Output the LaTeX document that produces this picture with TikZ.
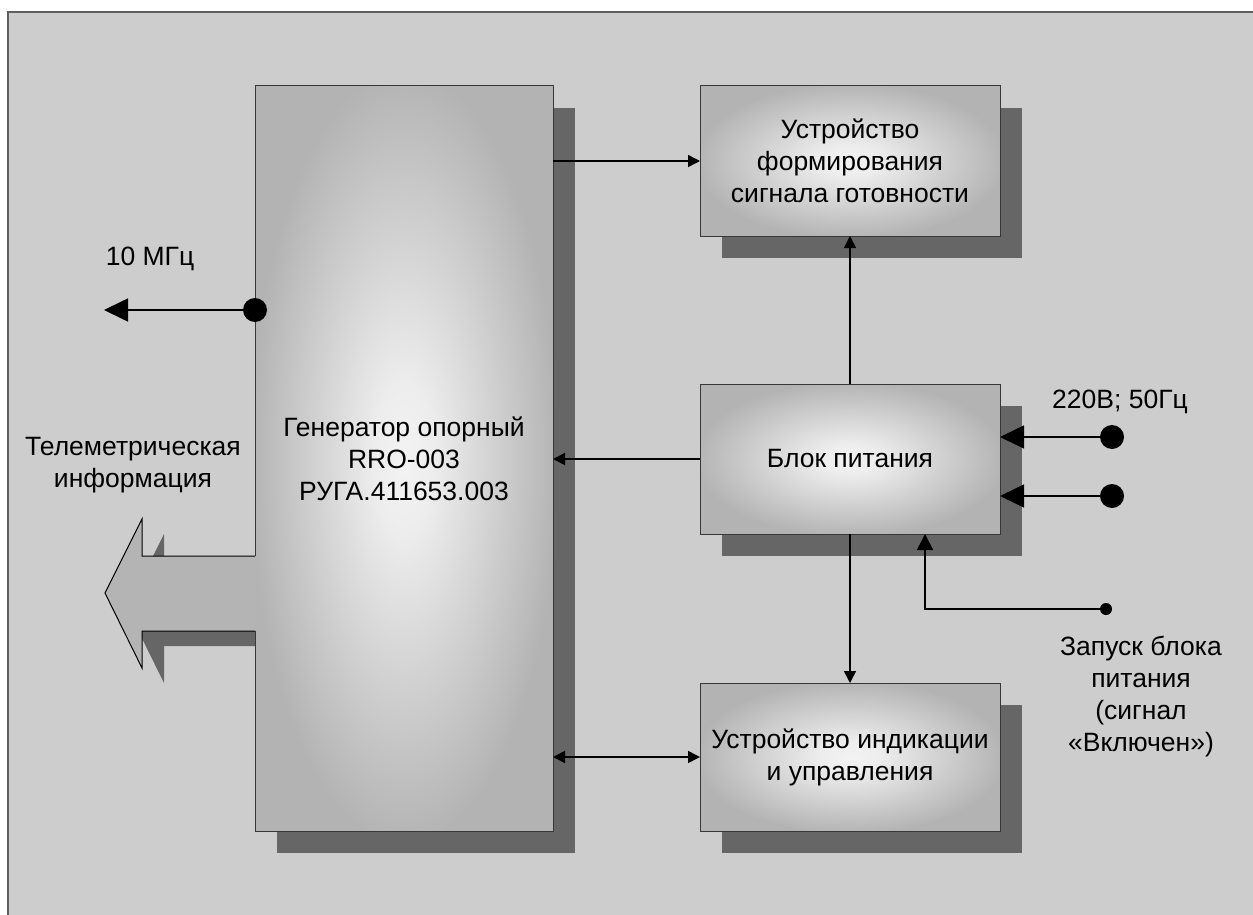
\documentclass[tikz,border=0pt]{standalone}
\usepackage{fontspec}
\setmainfont{Liberation Sans}
\usetikzlibrary{arrows.meta,calc}
\definecolor{bgc}{HTML}{CDCDCD}
\definecolor{framec}{HTML}{5F5F5F}
\definecolor{shadowc}{HTML}{666666}
\definecolor{glowin}{HTML}{F3F3F3}
\definecolor{glowmid}{HTML}{EDEDED}
\definecolor{glowout}{HTML}{B3B3B3}
\definecolor{arrowc}{HTML}{B4B4B4}
\pgfdeclareradialshading{boxglow}{\pgfpoint{0bp}{0bp}}{color(0bp)=(glowin); color(5bp)=(glowmid); color(26bp)=(glowout); color(50bp)=(glowout)}
\pgfdeclarelayer{bglayer}
\pgfdeclarelayer{shadowlayer}
\pgfsetlayers{bglayer,shadowlayer,main}
\tikzset{
  box/.style={shading=boxglow, inner sep=0pt, outer sep=0pt, align=center,
    font=\fontsize{26.5}{32}\selectfont},
  boxline/.style={draw=black!78, line width=1pt},
  lbl/.style={align=center, inner sep=0pt, font=\fontsize{26.5}{32}\selectfont},
  conn/.style={draw=black, line width=1.6pt},
  tipS/.style={-{Triangle[length=12pt,width=12pt]}},
  tipSS/.style={{Triangle[length=12pt,width=12pt]}-{Triangle[length=12pt,width=12pt]}},
  tipL/.style={-{Triangle[length=24pt,width=23pt]}},
  tipM/.style={-{Triangle[length=16pt,width=16pt]}},
  bigdot/.style={circle, fill=black, inner sep=0pt, minimum size=24pt},
  smalldot/.style={circle, fill=black, inner sep=0pt, minimum size=12pt},
}
\begin{document}
\begin{tikzpicture}[x=1pt,y=-1pt]
\useasboundingbox (0,0) rectangle (1253,915);
% background
\begin{pgfonlayer}{bglayer}
\fill[bgc] (8,12) rectangle (1253,915);
\draw[framec, line width=2pt] (8,915) -- (8,12) -- (1253,12);
\end{pgfonlayer}

% boxes
\node[box, minimum width=298pt, minimum height=745pt] (gen) at (404,458.5)
  {Генератор опорный\\RRO-003\\РУГА.411653.003};
\node[box, boxline, minimum width=300pt, minimum height=150pt] (top) at (850,161)
  {Устройство\\формирования\\сигнала готовности};
\node[box, boxline, minimum width=300pt, minimum height=150pt] (psu) at (850,459)
  {Блок питания};
\node[box, boxline, minimum width=300pt, minimum height=148pt] (ind) at (850,757)
  {Устройство индикации\\и управления};

% shadows
\begin{pgfonlayer}{shadowlayer}
\foreach \n in {gen,top,psu,ind}{
  \fill[shadowc] ($(\n.south west)+(22,22)$) rectangle ($(\n.north east)+(22,22)$);
}
% shadow of the big hollow arrow
\fill[shadowc] (277,571) -- (164,571) -- (164,534) -- (127,608) -- (164,683) -- (164,646) -- (277,646) -- cycle;
\end{pgfonlayer}

% big hollow arrow (telemetry)
\fill[arrowc] (255.5,556) -- (142,556) -- (142,519) -- (105,593) -- (142,668) -- (142,631) -- (255.5,631) -- cycle;
\draw[black, line width=1pt, line join=miter] (255,556) -- (142,556) -- (142,519) -- (105,593) -- (142,668) -- (142,631) -- (255,631);
% generator outline with a gap for the arrow
\draw[boxline] (gen.west |- 0,556) -- (gen.north west) -- (gen.north east) -- (gen.south east) -- (gen.south west) -- (gen.west |- 0,631);

% connectors between blocks
\draw[conn, tipS] (gen.east |- top.west) -- (top.west);
\draw[conn, tipS] (psu.north) -- (top.south);
\draw[conn, tipS] (psu.west) -- (psu.west -| gen.east);
\draw[conn, tipS] (psu.south) -- (ind.north);
\draw[conn, tipSS] (ind.west -| gen.east) -- (ind.west);

% 10 MHz output
\node[bigdot] (d10) at (255,310) {};
\coordinate (o10) at (104,310);
\draw[conn, tipL] (d10.center) -- (o10);
\node[lbl, anchor=base] (l10) at (150,265) {10 МГц};

% mains inputs
\node[bigdot] (p1) at (1112,437) {};
\node[bigdot] (p2) at (1112,496) {};
\draw[conn, tipL] (p1.center) -- (p1 -| psu.east);
\draw[conn, tipL] (p2.center) -- (p2 -| psu.east);
\node[lbl, anchor=base west] (l220) at (1052,408) {220В; 50Гц};

% start signal
\node[smalldot] (zp) at (1106,609) {};
\coordinate (zin) at ($(psu.south west)+(225,0)$);
\draw[conn, tipM] (zp.center) -| (zin);
\node[lbl] (lzp) at (1141,697) {Запуск блока\\питания\\(сигнал\\«Включен»)};

% telemetry label
\node[lbl] (ltm) at (133,465) {Телеметрическая\\информация};
\end{tikzpicture}
\end{document}
